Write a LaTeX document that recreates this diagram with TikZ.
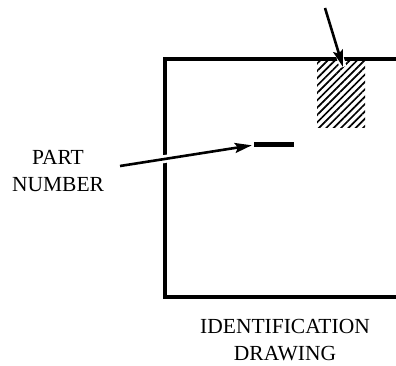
\documentclass[tikz,border=0pt]{standalone}
\usepackage{fontspec}
\setmainfont{Liberation Serif}
\usetikzlibrary{arrows.meta,patterns.meta}
\begin{document}
\begin{tikzpicture}[x=1pt,y=-1pt,
  frame/.style={line width=3.4pt},
  lbl/.style={font=\fontsize{21.5}{26.5}\selectfont, align=center, inner sep=0pt},
  ptr/.style={line width=2.6pt, -{Stealth[length=17pt,width=10pt,inset=3pt]}},
  halo/.style={white, line width=8pt}]
\useasboundingbox (0,0) rectangle (396,366);
% drawing frame (open to the right)
\draw[frame] (396,59) -- (165,59) -- (165,297) -- (396,297);
% hatched identification area
\node[pattern={Lines[angle=45,distance=5.2pt,line width=1.7pt]},
      minimum width=48pt, minimum height=67pt, inner sep=0pt] (hatch) at (341,94) {};
% part number bar
\node[fill=black, minimum width=40pt, minimum height=5pt, inner sep=0pt] (pn) at (274,145) {};
% labels
\node[lbl] (plabel) at (58,171) {PART\\NUMBER};
\node[lbl] (dlabel) at (285,340) {IDENTIFICATION\\DRAWING};
% connectors
\coordinate (a1s) at (120,166);
\coordinate (a2s) at (325,8);
\coordinate (a2e) at (343,67);
\draw[halo, shorten <=36pt, shorten >=80pt] (a1s) -- (pn.west);
\draw[halo, line width=7pt, shorten <=44pt] (a2s) -- (a2e);
\draw[ptr, shorten >=2pt] (a1s) -- (pn.west);
\draw[ptr] (a2s) -- (a2e);
\end{tikzpicture}
\end{document}
